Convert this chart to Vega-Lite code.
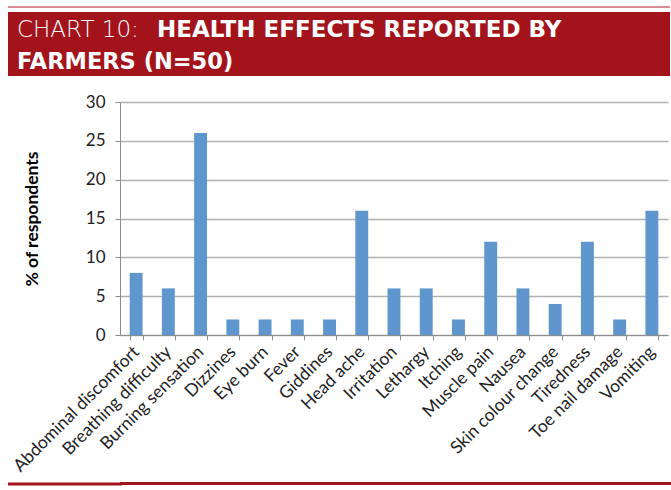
{
  "$schema": "https://vega.github.io/schema/vega-lite/v6.json",
  "background": "white",
  "padding": {"left": -24, "top": 6, "right": 0, "bottom": 0},
  "spacing": 4,
  "config": {"view": {"stroke": null}, "font": "Lato"},
  "vconcat": [
    {
      "width": 550,
      "height": 2,
      "view": {"fill": "#db8e91", "stroke": null},
      "data": {"values": [{"k": 0.5}]},
      "mark": {"type": "rule", "opacity": 0},
      "encoding": {
        "y": {
          "field": "k", "type": "quantitative",
          "scale": {"domain": [0, 1], "nice": false, "zero": false},
          "axis": {"orient": "left", "values": [0.5], "translate": 0, "offset": -2, "tickSize": 114, "tickWidth": 2, "tickColor": "#db8e91", "tickCap": "butt", "labels": false, "domain": false, "grid": false, "title": null}
        }
      }
    },
    {
      "width": 550,
      "height": 64,
      "view": {"fill": "#a3131c", "stroke": null},
      "data": {"values": [
        {"line": 1, "col": "a", "light": "CHART 10:", "bold": "HEALTH EFFECTS REPORTED BY"},
        {"line": 2, "col": "a", "light": "", "bold": "FARMERS (N=50)"}
      ]},
      "encoding": {
        "y": {
          "field": "line", "type": "quantitative",
          "scale": {"domain": [0.5, 2.5], "reverse": true, "nice": false, "zero": false},
          "axis": {"orient": "left", "values": [1.5], "translate": 0, "offset": -2, "tickSize": 114, "tickWidth": 64, "tickColor": "#a3131c", "tickCap": "butt", "labels": false, "domain": false, "grid": false, "title": null}
        },
        "x": {"field": "col", "type": "nominal", "axis": null, "scale": {"type": "point", "padding": 0, "align": 0}}
      },
      "layer": [
        {
          "transform": [{"filter": "datum.line == 1"}],
          "mark": {"type": "text", "align": "left", "baseline": "alphabetic", "dx": -103, "dy": 9, "font": "DejaVu Sans", "fontSize": 23, "fontWeight": 200, "color": "white"},
          "encoding": {"text": {"field": "light"}}
        },
        {
          "transform": [{"filter": "datum.line == 1"}],
          "mark": {"type": "text", "align": "left", "baseline": "alphabetic", "dx": 37, "dy": 9, "font": "DejaVu Sans", "fontSize": 23, "fontWeight": "bold", "color": "white"},
          "encoding": {"text": {"field": "bold"}}
        },
        {
          "transform": [{"filter": "datum.line == 2"}],
          "mark": {"type": "text", "align": "left", "baseline": "alphabetic", "dx": -103, "dy": 9, "font": "DejaVu Sans", "fontSize": 22.5, "fontWeight": "bold", "color": "white"},
          "encoding": {"text": {"field": "bold"}}
        }
      ]
    },
    {
      "width": 548,
      "height": 233,
      "title": {"text": " ", "fontSize": 13, "offset": 0},
      "data": {"values": [
        {"effect": "Abdominal discomfort", "pct": 8},
        {"effect": "Breathing difficulty", "pct": 6},
        {"effect": "Burning sensation", "pct": 26},
        {"effect": "Dizzines", "pct": 2},
        {"effect": "Eye burn", "pct": 2},
        {"effect": "Fever", "pct": 2},
        {"effect": "Giddines", "pct": 2},
        {"effect": "Head ache", "pct": 16},
        {"effect": "Irritation", "pct": 6},
        {"effect": "Lethargy", "pct": 6},
        {"effect": "Itching", "pct": 2},
        {"effect": "Muscle pain", "pct": 12},
        {"effect": "Nausea", "pct": 6},
        {"effect": "Skin colour change", "pct": 4},
        {"effect": "Tiredness", "pct": 12},
        {"effect": "Toe nail damage", "pct": 2},
        {"effect": "Vomiting", "pct": 16}
      ]},
      "mark": {"type": "bar", "color": "#5f96cd"},
      "encoding": {
        "x": {
          "field": "effect", "type": "nominal", "sort": null,
          "scale": {"paddingInner": 0.6, "paddingOuter": 0.3},
          "axis": {
            "title": " ", "titleFontSize": 3, "titlePadding": 0,
            "labelAngle": -45, "labelAlign": "right", "labelBaseline": "middle",
            "labelFontSize": 17.5, "labelColor": "#222222", "labelPadding": 9,
            "tickBand": "extent", "tickSize": 5, "tickColor": "#8c8c8c", "domainColor": "#8c8c8c",
            "labelOverlap": false
          }
        },
        "y": {
          "field": "pct", "type": "quantitative",
          "scale": {"domain": [0, 30], "nice": false},
          "axis": {
            "title": "% of respondents", "titleFontSize": 17.5, "titleFontWeight": "bold", "titleColor": "#000000",
            "titlePadding": 44,
            "values": [0, 5, 10, 15, 20, 25, 30],
            "labelFontSize": 17, "labelColor": "#222222", "labelPadding": 10,
            "tickSize": 5, "tickColor": "#8c8c8c", "domainColor": "#8c8c8c",
            "gridColor": "#b0b0b0", "gridWidth": 1.5
          }
        }
      }
    },
    {
      "width": 551,
      "height": 3,
      "view": {"fill": "#a3131c", "stroke": null},
      "data": {"values": [{"k": 0.5}]},
      "mark": {"type": "rule", "opacity": 0},
      "encoding": {
        "y": {
          "field": "k", "type": "quantitative",
          "scale": {"domain": [0, 1], "nice": false, "zero": false},
          "axis": {"orient": "left", "values": [0.5], "translate": 0, "offset": -2, "tickSize": 114, "tickWidth": 3, "tickColor": "#a3131c", "tickCap": "butt", "labels": false, "domain": false, "grid": false, "title": null}
        }
      }
    }
  ]
}
